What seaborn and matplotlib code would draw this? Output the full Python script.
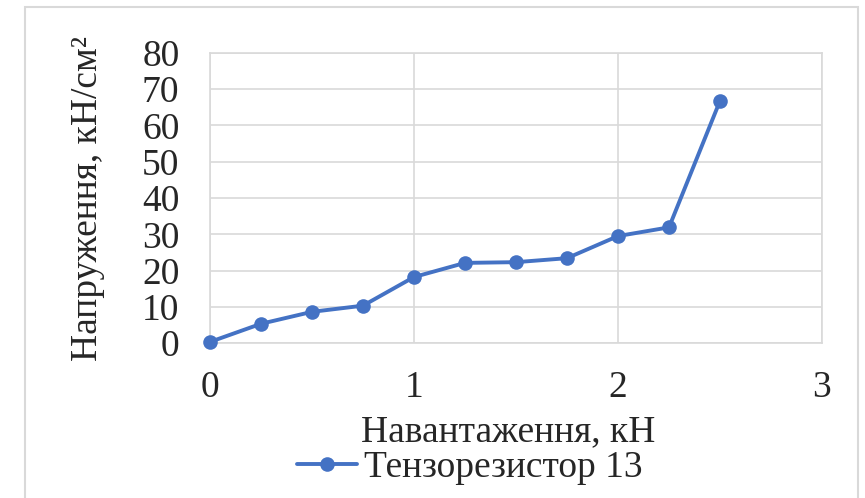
import seaborn as sns
import pandas as pd
import matplotlib.pyplot as plt
from matplotlib.patches import Rectangle

load_kn = [0, 0.25, 0.5, 0.75, 1.0, 1.25, 1.5, 1.75, 2.0, 2.25, 2.5]
stress = [0.3, 5.3, 8.6, 10.3, 18.2, 22.1, 22.3, 23.4, 29.5, 31.9, 66.8]
series_name = "Тензорезистор 13"
x_ticks = [0, 1, 2, 3]
y_ticks = [0, 10, 20, 30, 40, 50, 60, 70, 80]

if __name__ == '__main__':
    sns.set_style('white')
    plt.rcParams['font.family'] = ['Liberation Serif', 'DejaVu Serif']

    df = pd.DataFrame({'x': load_kn, 'y': stress, 'series': series_name})

    fig = plt.figure(figsize=(8.65, 4.98), dpi=100)
    ax = fig.add_axes([210 / 865, 155 / 498, 612 / 865, 290 / 498])

    sns.lineplot(data=df, x='x', y='y', hue='series', palette=['#4472C4'],
                 marker='o', markersize=10.5, markeredgewidth=0, linewidth=2.8,
                 ax=ax, clip_on=False, zorder=3)

    ax.set_xlim(0, 3)
    ax.set_ylim(0, 80)
    ax.set_xticks(x_ticks)
    ax.set_yticks(y_ticks)
    ax.tick_params(axis='both', length=0, labelsize=27)
    ax.tick_params(axis='x', pad=20)
    ax.tick_params(axis='y', pad=22)
    ax.grid(True, color='#D9D9D9', linewidth=1.2)
    for sp in ax.spines.values():
        sp.set_color('#D9D9D9')
        sp.set_linewidth(1.2)

    ax.set_xlabel('Навантаження, кН', fontsize=27)
    ax.set_ylabel('Напруження, кН/см²', fontsize=27)
    # label positions in axes fractions, as in the source chart
    ax.xaxis.set_label_coords(298 / 612, -89 / 290)
    ax.yaxis.set_label_coords(-122 / 612, 0.5)
    ax.xaxis.label.set_va('center')
    ax.yaxis.label.set_va('center')

    ax.legend_.remove()
    handles, labels = ax.get_legend_handles_labels()
    fig.legend(handles, labels, loc='center', bbox_to_anchor=(470 / 865, 1 - 468 / 498),
               frameon=False, fontsize=27, handlelength=1.6, handletextpad=0.2,
               borderpad=0)

    fig.patches.append(Rectangle((25 / 865, -0.05), 833 / 865, 1.05 - 7 / 498,
                                 transform=fig.transFigure, fill=False,
                                 edgecolor='#D9D9D9', linewidth=1.5))

    plt.savefig('out.png', dpi=100)
